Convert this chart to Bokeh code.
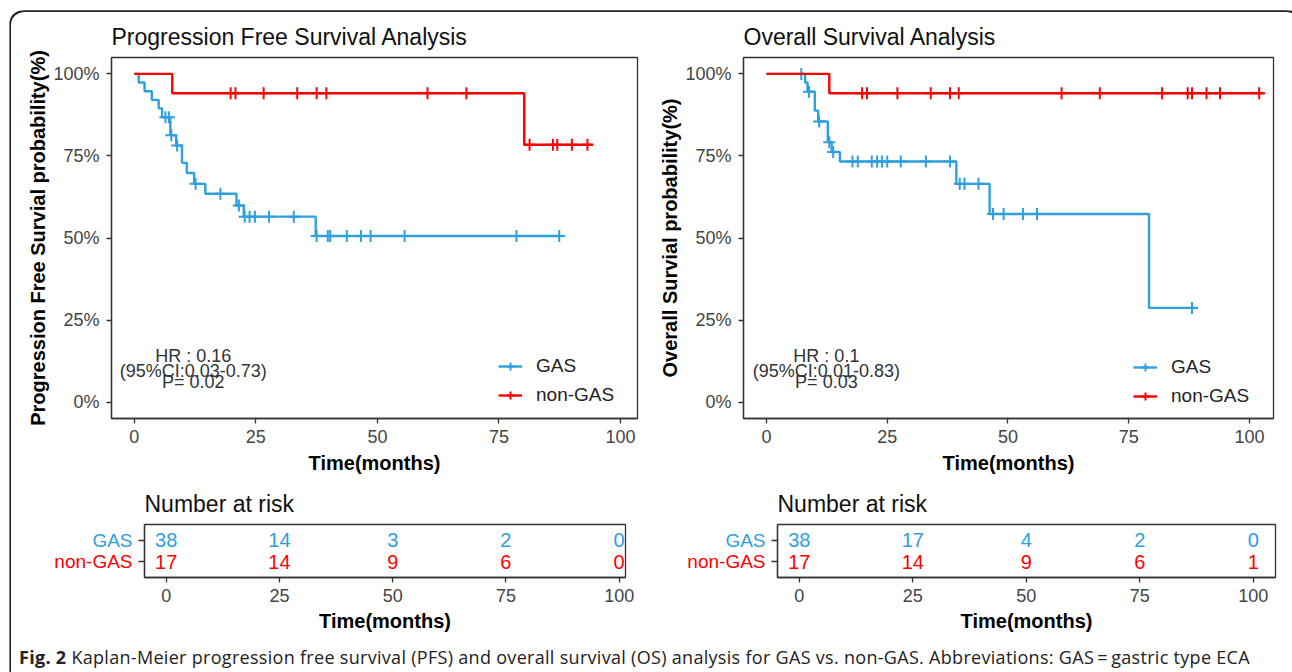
import numpy as np
from bokeh.plotting import figure
from bokeh.models import (ColumnDataSource, Legend, LegendItem, FixedTicker,
                          Range1d, Div)
from bokeh.layouts import column, row
from bokeh.embed import file_html
from bokeh.resources import INLINE
from bokeh.core.properties import value

# ---------------- data ----------------
# Progression free survival
pfs_gas_t = [0, 0.9, 2.1, 3.6, 5.0, 5.7, 7.4, 8.6, 9.8, 10.8, 12.3, 14.6, 21.0, 22.5, 37.3]
pfs_gas_s = [100, 97.4, 94.7, 92.1, 89.5, 86.8, 81.3, 78.2, 72.9, 69.8, 66.5, 63.5, 59.9, 56.5, 50.6]
pfs_gas_end = 87.9
pfs_gas_cens = [6.4, 7.1, 7.6, 8.8, 12.6, 17.7, 21.5, 22.7, 23.7, 24.8, 27.7, 32.8, 37.5,
                39.8, 40.3, 43.7, 46.6, 48.6, 55.6, 78.6, 87.4]
pfs_non_t = [0, 7.8, 80.2]
pfs_non_s = [100, 94.1, 78.4]
pfs_non_end = 94.3
pfs_non_cens = [19.8, 20.8, 26.6, 33.5, 37.5, 39.5, 60.3, 68.3, 81.3, 86.1, 87.0, 90.0, 93.2]

# Overall survival
os_gas_t = [0, 8.0, 8.5, 10.0, 10.7, 12.7, 13.5, 15.2, 39.3, 46.2, 79.2]
os_gas_s = [100, 97.4, 94.6, 88.8, 85.5, 79.2, 76.2, 73.3, 66.5, 57.3, 28.7]
os_gas_end = 89.2
os_gas_cens = [7.2, 8.8, 10.9, 13.0, 13.8, 17.8, 18.9, 21.8, 22.9, 23.9, 25.0, 27.8, 33.0,
               38.0, 40.0, 41.0, 43.9, 46.9, 49.1, 53.1, 56.0, 88.1]
os_non_t = [0, 13.0]
os_non_s = [100, 94.1]
os_non_end = 102.9
os_non_cens = [19.8, 20.8, 27.1, 34.0, 38.0, 39.8, 61.1, 69.0, 81.9, 87.2, 88.1, 91.1, 93.9, 102.0]

# Number at risk
risk_times = [0, 25, 50, 75, 100]
pfs_gas_risk = [38, 14, 3, 2, 0]
pfs_non_risk = [17, 14, 9, 6, 0]
os_gas_risk = [38, 17, 4, 2, 0]
os_non_risk = [17, 14, 9, 6, 1]

group_names = ["GAS", "non-GAS"]
x_ticks = [0, 25, 50, 75, 100]
y_ticks = [0, 25, 50, 75, 100]
y_tick_labels = ["0%", "25%", "50%", "75%", "100%"]

pfs_hr_lines = ["HR : 0.16", "(95%CI:0.03-0.73)", "P= 0.02"]
os_hr_lines = ["HR : 0.1", "(95%CI:0.01-0.83)", "P= 0.03"]

caption_html = ("<b>Fig. 2</b> Kaplan-Meier progression free survival (PFS) and overall survival (OS) "
                "analysis for GAS vs. non-GAS. Abbreviations: GAS\u2009=\u2009gastric type ECA")

# ---------------- styling ----------------
BLUE = "#2E9FDF"
RED = "#FF0000"
FONT = "Liberation Sans"
AX = "#333333"
TABLE_YR = (0.25, 2.75)


def km_source(t, s, end):
    return ColumnDataSource(dict(x=list(t) + [end], y=list(s) + [s[-1]]))


def cens_source(t, s, cens):
    idx = np.searchsorted(np.array(t), np.array(cens), side="right") - 1
    return ColumnDataSource(dict(x=list(cens), y=list(np.array(s)[idx])))


def style_axes(p):
    for ax in p.axis:
        ax.axis_line_color = AX
        ax.axis_line_width = 1.3
        ax.major_tick_line_color = AX
        ax.major_tick_line_width = 1.3
        ax.major_tick_out = 5
        ax.major_tick_in = 0
        ax.minor_tick_line_color = None
        ax.major_label_text_font = FONT
        ax.major_label_text_font_size = "18px"
        ax.major_label_text_color = "#444444"
        ax.axis_label_text_font = FONT
        ax.axis_label_text_font_size = "20px"
        ax.axis_label_text_font_style = "bold"
        ax.axis_label_text_color = "#000000"


def base_fig(width, height, left, right, top, bottom, xr, yr, title):
    p = figure(width=width, height=height, x_range=xr, y_range=yr,
               output_backend="svg", toolbar_location=None, tools="",
               min_border_left=left, min_border_right=right,
               min_border_top=top, min_border_bottom=bottom)
    p.title.text = title
    p.title.text_font = FONT
    p.title.text_font_size = "23px"
    p.title.text_font_style = "normal"
    p.title.text_color = "#111111"
    p.title.align = "left"
    p.title.standoff = 15
    p.xgrid.visible = False
    p.ygrid.visible = False
    p.outline_line_color = AX
    p.outline_line_width = 1.3
    p.border_fill_color = None
    p.background_fill_color = "white"
    return p


def main_plot(width, left, right, xr, title, ylabel, gas, non, hr_lines, hr_x, legend_loc):
    p = base_fig(width, 466, left, right, 45, 60, xr, Range1d(-5, 105), title)
    p.xaxis.axis_label = "Time(months)"
    p.yaxis.axis_label = ylabel
    p.xaxis.ticker = FixedTicker(ticks=x_ticks)
    p.yaxis.ticker = FixedTicker(ticks=y_ticks)
    p.yaxis.major_label_overrides = dict(zip(y_ticks, y_tick_labels))
    style_axes(p)
    p.xaxis.major_label_standoff = 6
    p.xaxis.axis_label_standoff = 6
    p.yaxis.major_label_standoff = 7
    p.yaxis.axis_label_standoff = 1

    items = []
    for (t, s, end, cens), color, name in zip([gas, non], [BLUE, RED], group_names):
        ln = p.step("x", "y", source=km_source(t, s, end), mode="after",
                    line_color=color, line_width=2.4)
        cs = p.scatter("x", "y", source=cens_source(t, s, cens), marker="cross",
                       size=12, line_color=color, line_width=2)
        items.append(LegendItem(label=name, renderers=[ln, cs]))

    hr_y = [14.0, 9.6, 6.0]
    p.text(x=[hr_x] * 3, y=hr_y, text=hr_lines, text_font=value(FONT),
           text_font_size="18px", text_align="center", text_baseline="middle",
           text_color="#333333")

    leg = Legend(items=items, location=legend_loc, orientation="vertical",
                 glyph_width=24, glyph_height=20, label_height=20, label_standoff=14,
                 spacing=7, padding=0, margin=0, border_line_color=None,
                 background_fill_alpha=0, label_text_font=FONT,
                 label_text_font_size="19px", label_text_color="#222222")
    p.add_layout(leg)
    return p


def row_labels(width):
    # strata names to the left of the risk table, in their group colours
    p = figure(width=width, height=158, x_range=Range1d(0, 1), y_range=Range1d(*TABLE_YR),
               output_backend="svg", toolbar_location=None, tools="",
               x_axis_location=None, y_axis_location=None,
               min_border_left=0, min_border_right=0, min_border_top=46, min_border_bottom=59)
    p.xgrid.visible = False
    p.ygrid.visible = False
    p.outline_line_color = None
    p.border_fill_color = None
    p.background_fill_color = None
    p.text(x=[1, 1], y=[2, 1], text=group_names, text_color=[BLUE, RED],
           text_font=value(FONT), text_font_size="19px", text_align="right",
           text_baseline="middle")
    return p


def risk_table(width, left, right, xr, gas_risk, non_risk):
    p = base_fig(width, 158, left, right, 46, 59, xr, Range1d(*TABLE_YR), "Number at risk")
    p.xaxis.axis_label = "Time(months)"
    p.xaxis.ticker = FixedTicker(ticks=x_ticks)
    p.yaxis.ticker = FixedTicker(ticks=[1, 2])
    p.yaxis.major_label_overrides = {1: "", 2: ""}
    style_axes(p)
    p.yaxis.major_tick_out = 6
    p.yaxis.major_label_standoff = 0
    p.xaxis.major_label_standoff = 6
    p.xaxis.axis_label_standoff = 5
    for vals, color, yrow in [(gas_risk, BLUE, 2), (non_risk, RED, 1)]:
        p.text(x=risk_times, y=[yrow] * len(risk_times), text=[str(v) for v in vals],
               text_font=value(FONT), text_font_size="20px", text_align="center",
               text_baseline="middle", text_color=color)
    return p


p1 = main_plot(639, 100, 13, Range1d(-4.7, 103.5),
               "Progression Free Survival Analysis", "Progression Free Survial probability(%)",
               (pfs_gas_t, pfs_gas_s, pfs_gas_end, pfs_gas_cens),
               (pfs_non_t, pfs_non_s, pfs_non_end, pfs_non_cens),
               pfs_hr_lines, 12.1, (387, 12))
p2 = main_plot(640, 93, 17, Range1d(-4.76, 104.97),
               "Overall Survival Analysis", "Overall Survial probability(%)",
               (os_gas_t, os_gas_s, os_gas_end, os_gas_cens),
               (os_non_t, os_non_s, os_non_end, os_non_cens),
               os_hr_lines, 12.4, (390, 11))

l1 = row_labels(121)
t1 = risk_table(518, 12, 25, Range1d(-4.8, 101.4), pfs_gas_risk, pfs_non_risk)
l2 = row_labels(115)
t2 = risk_table(525, 12, 15, Range1d(-4.8, 104.9), os_gas_risk, os_non_risk)

cap = Div(text=('<div style="margin-left:3px; margin-top:6px; line-height:20px; '
                'white-space:nowrap; font-family:\'Open Sans\'; font-size:18px; '
                'letter-spacing:0.3px; color:#222;">'
                + caption_html + '</div>'), width=1279, height=34)

layout = column(row(p1, p2), row(l1, t1, l2, t2), cap,
                styles={"margin": "12px 0 0 11px",
                        "box-shadow": "-1.6px -1.6px 0 0 #222, 1.6px -1.6px 0 0 #222",
                        "border-radius": "13px 13px 0 0"})

open("out.html", "w").write(file_html(layout, INLINE))
